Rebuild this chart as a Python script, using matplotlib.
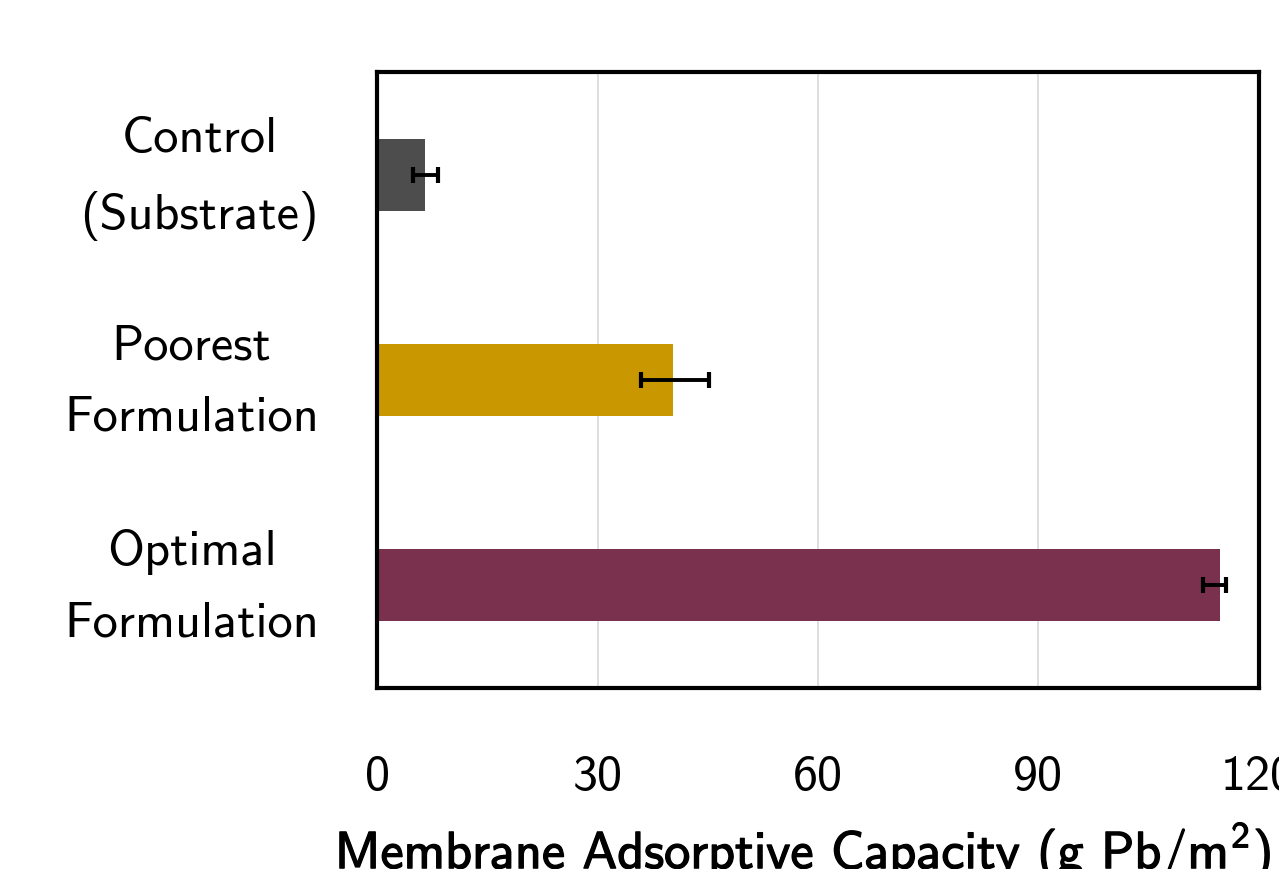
from matplotlib import pyplot as plt
from matplotlib import patheffects
from matplotlib.transforms import ScaledTranslation
import numpy as np

# data
categories = ['Control\n(Substrate)', 'Poorest\nFormulation', 'Optimal\nFormulation']
capacity = [6.5, 40.3, 114.7]
err_low = [1.6, 4.4, 2.3]
err_high = [1.8, 4.9, 0.9]
bar_colors = ['#4d4d4d', '#c99700', '#7a314d']
x_ticks = [0, 30, 60, 90, 120]

plt.rcParams['font.family'] = ['cmss10', 'DejaVu Sans']
plt.rcParams['mathtext.fontset'] = 'custom'
plt.rcParams['mathtext.rm'] = 'cmss10'
plt.rcParams['mathtext.it'] = 'cmss10'
plt.rcParams['axes.unicode_minus'] = False

fig = plt.figure(figsize=(12.79, 8.69), dpi=100)
ax = fig.add_axes([0.295, 0.2083, 0.984 - 0.295, 0.917 - 0.2083])

y = np.arange(len(categories))
ax.barh(y, capacity, height=0.35, color=bar_colors, zorder=2)
ax.errorbar(capacity, y, xerr=[err_low, err_high], fmt='none', ecolor='black',
            elinewidth=2.8, capsize=5.5, capthick=3, zorder=3)

ax.set_xlim(0, 120)
ax.set_ylim(2.5, -0.5)
ax.set_xticks(x_ticks)
ax.set_xticklabels([str(t) for t in x_ticks])
ax.set_yticks(y)
ax.set_yticklabels(categories, multialignment='center')
ax.tick_params(axis='both', length=0)
ax.tick_params(axis='x', pad=48, labelsize=36)
ax.tick_params(axis='y', pad=42, labelsize=36.3)
shift_up = ScaledTranslation(0, 0.16, fig.dpi_scale_trans)
for lab in ax.get_yticklabels():
    lab.set_linespacing(1.76)
    lab.set_transform(lab.get_transform() + shift_up)

ax.grid(axis='x', color='#d9d9d9', linewidth=1.2, zorder=0)
ax.set_axisbelow(True)
for s in ax.spines.values():
    s.set_linewidth(3)
    s.set_color('black')
    s.set_zorder(4)

xl = ax.set_xlabel(r'Membrane Adsorptive Capacity (g Pb/m$^{2}$)', fontsize=37.6, labelpad=15)
xl.set_x(0.483)
xl.set_path_effects([patheffects.withStroke(linewidth=0.9, foreground='black')])

fig.savefig('out.png', dpi=100)
